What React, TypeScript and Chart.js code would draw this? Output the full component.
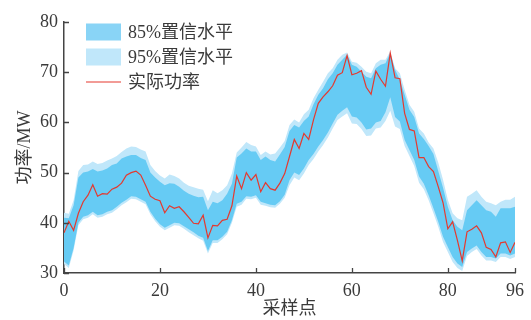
import React, { useEffect, useRef } from 'react';
import { Chart, registerables } from 'chart.js';

Chart.register(...registerables);

// ---- data (x = sample index 0..94) ----
const actual = [
  38.0, 40.3, 38.5, 41.9, 44.2, 45.5, 47.6, 45.3, 45.8, 45.7,
  46.7, 47.1, 47.9, 49.5, 50.0, 50.3, 49.5, 47.5, 45.3, 44.7,
  44.4, 42.0, 43.4, 42.9, 43.2, 42.2, 41.1, 39.9, 39.8, 41.5,
  37.0, 39.5, 39.4, 40.5, 40.7, 43.4, 49.3, 46.8, 50.0, 48.5,
  49.6, 46.2, 48.0, 46.8, 46.5, 47.9, 49.8, 53.2, 56.6, 54.8,
  57.8, 56.6, 60.5, 63.8, 65.1, 66.1, 67.3, 69.4, 69.9, 73.3,
  69.5, 69.8, 70.3, 67.0, 65.6, 70.2, 68.6, 67.2, 73.8, 68.9,
  68.7, 61.8, 58.6, 58.3, 53.0, 53.0, 51.2, 50.2, 47.2, 44.0,
  38.8, 40.2, 36.5, 32.4, 38.2, 38.7, 39.4, 38.0, 35.1, 34.7,
  33.2, 36.0, 36.2, 34.1, 36.1,
];

const upper95 = [
  42.0, 41.8, 44.5, 50.3, 51.5, 51.6, 52.2, 51.7, 51.9, 52.4,
  52.8, 53.3, 54.1, 54.8, 55.2, 55.1, 54.6, 54.2, 51.5, 50.3,
  49.4, 48.8, 49.6, 49.3, 48.8, 48.0, 47.4, 47.1, 46.8, 46.6,
  44.3, 46.5, 45.9, 46.5, 47.5, 49.8, 54.0, 55.0, 56.1, 55.5,
  55.2, 53.5, 54.2, 53.6, 53.8, 55.0, 56.3, 59.5, 60.6, 60.0,
  61.6, 62.5, 64.8, 66.5, 68.1, 69.8, 70.8, 72.5, 73.5, 73.9,
  72.1, 71.9, 71.1, 70.1, 69.8, 71.8, 72.5, 72.5, 74.1, 70.8,
  69.8, 66.5, 63.5, 62.1, 58.8, 57.8, 56.0, 54.8, 52.0, 48.6,
  44.6, 41.9, 40.9, 40.5, 45.2, 45.8, 46.5, 45.2, 44.2, 43.9,
  43.5, 44.2, 44.6, 44.6, 45.2,
];

const upper85 = [
  41.0, 40.9, 43.5, 49.0, 50.0, 50.2, 50.7, 50.2, 50.4, 50.8,
  51.5, 51.8, 52.8, 53.2, 53.5, 53.5, 52.9, 52.5, 50.0, 49.0,
  48.2, 47.5, 47.9, 47.8, 47.2, 46.4, 45.8, 45.4, 45.1, 45.2,
  42.5, 44.2, 43.9, 44.5, 45.8, 47.8, 53.0, 53.8, 54.8, 54.2,
  54.2, 52.5, 53.2, 52.5, 52.2, 53.6, 55.1, 58.3, 59.5, 59.0,
  60.3, 61.2, 63.6, 65.5, 66.8, 68.6, 69.8, 71.5, 72.5, 73.5,
  71.5, 71.1, 70.1, 69.1, 68.8, 70.8, 71.5, 71.8, 73.8, 70.5,
  68.5, 65.5, 62.5, 61.1, 57.8, 56.7, 55.3, 53.7, 50.3, 47.0,
  43.2, 40.5, 39.2, 38.5, 42.5, 43.5, 44.5, 43.5, 42.5, 42.2,
  41.2, 42.9, 42.9, 42.9, 43.2,
];

const lower85 = [
  32.3, 31.5, 35.0, 40.0, 41.2, 41.5, 42.2, 41.5, 41.7, 42.2,
  42.5, 43.2, 44.0, 44.6, 45.3, 45.2, 44.7, 44.2, 42.2, 40.8,
  39.7, 39.0, 39.5, 40.0, 39.9, 39.3, 38.7, 38.1, 37.4, 37.0,
  34.4, 36.5, 36.5, 37.2, 38.2, 40.5, 43.8, 44.2, 45.3, 45.2,
  45.5, 44.2, 43.9, 43.6, 43.5, 44.3, 45.6, 48.5, 50.0, 49.5,
  50.8, 52.5, 53.7, 55.2, 56.5, 58.0, 59.8, 61.5, 62.3, 63.0,
  61.2, 61.0, 60.0, 58.6, 58.8, 60.0, 60.3, 62.0, 65.0, 61.1,
  60.2, 56.5, 54.5, 52.5, 49.2, 47.8, 45.5, 42.9, 40.2, 37.2,
  35.2, 33.2, 31.9, 31.2, 34.2, 34.9, 35.5, 34.2, 33.2, 33.2,
  32.9, 33.9, 33.9, 33.5, 33.9,
];

const lower95 = [
  31.8, 31.0, 34.5, 39.5, 40.7, 41.0, 41.7, 41.0, 41.2, 41.7,
  42.0, 42.7, 43.5, 44.1, 44.8, 44.7, 44.2, 43.7, 41.7, 40.3,
  39.2, 38.5, 39.0, 39.5, 39.4, 38.8, 38.1, 37.5, 36.9, 36.4,
  33.9, 36.0, 36.0, 36.7, 37.7, 40.0, 43.2, 43.6, 44.8, 44.7,
  45.0, 43.6, 43.4, 43.1, 43.0, 43.8, 45.0, 47.5, 49.0, 48.5,
  49.8, 51.5, 52.7, 54.2, 55.5, 57.0, 58.8, 60.5, 61.2, 61.8,
  59.8, 59.7, 58.7, 57.3, 57.4, 58.8, 59.0, 60.3, 62.3, 59.2,
  58.7, 55.3, 53.3, 51.3, 48.0, 46.7, 44.5, 41.9, 39.2, 36.2,
  34.2, 32.2, 31.0, 30.4, 33.4, 34.2, 34.8, 33.5, 32.5, 32.5,
  32.2, 33.2, 33.2, 32.8, 33.2,
];

const xTickValues = [0, 20, 40, 60, 80, 94];
const xTickLabels = ['0', '20', '40', '60', '80', '96'];
const yMin = 30;
const yMax = 80;
const yStep = 10;
const xTitle = '采样点';
const yTitle = '功率/MW';
const legendLabels = ['85%置信水平', '95%置信水平', '实际功率'];

// ---- styles ----
const FONT = '"Liberation Serif", "Times New Roman", "Noto Sans CJK SC", serif';
const TEXT = '#3a3a3a';
const AXIS = '#444444';
const RED = '#e5392f';
const BAND85 = '#66cbf4';
const BAND95 = '#c0e7fa';
const LEG85 = '#89d4f6';
const LEG95 = '#c0e7fa';

const pts = (arr: number[]) => arr.map((y, i) => ({ x: i, y }));

const tickMarksPlugin = {
  id: 'inwardTicks',
  afterDraw(chart: any) {
    const { ctx, chartArea, scales } = chart;
    ctx.save();
    ctx.strokeStyle = AXIS;
    ctx.lineWidth = 1.3;
    ctx.beginPath();
    xTickValues.forEach((v) => {
      const px = Math.round(scales.x.getPixelForValue(v)) + 0.5;
      ctx.moveTo(px, chartArea.bottom);
      ctx.lineTo(px, chartArea.bottom - 5);
    });
    for (let v = yMin; v <= yMax; v += yStep) {
      const py = Math.round(scales.y.getPixelForValue(v)) + 0.5;
      ctx.moveTo(chartArea.left, py);
      ctx.lineTo(chartArea.left + 5, py);
    }
    ctx.stroke();
    ctx.restore();
  },
};

const legendPlugin = {
  id: 'insideLegend',
  afterDraw(chart: any) {
    const { ctx, chartArea } = chart;
    const x0 = chartArea.left + 22;
    const sw = 35;
    const rows = [chartArea.top + 10, chartArea.top + 35, chartArea.top + 60];
    ctx.save();
    ctx.fillStyle = LEG85;
    ctx.fillRect(x0, rows[0] - 8.5, sw, 17);
    ctx.fillStyle = LEG95;
    ctx.fillRect(x0, rows[1] - 8.5, sw, 17);
    ctx.strokeStyle = RED;
    ctx.lineWidth = 1.2;
    ctx.beginPath();
    ctx.moveTo(x0, rows[2]);
    ctx.lineTo(x0 + sw, rows[2]);
    ctx.stroke();
    ctx.fillStyle = TEXT;
    ctx.font = `18px ${FONT}`;
    ctx.textAlign = 'left';
    ctx.textBaseline = 'middle';
    legendLabels.forEach((t, i) => ctx.fillText(t, x0 + 42, rows[i] + 1));
    ctx.restore();
  },
};

export default function App() {
  const ref = useRef<HTMLCanvasElement | null>(null);

  useEffect(() => {
    if (!ref.current) return;
    const line = { pointRadius: 0, tension: 0, borderWidth: 0, borderColor: 'rgba(0,0,0,0)' };
    const chart = new Chart(ref.current, {
      type: 'line',
      data: {
        datasets: [
          { ...line, label: legendLabels[2], data: pts(actual), borderColor: RED, borderWidth: 1.2, fill: false },
          { ...line, label: legendLabels[0], data: pts(upper85), fill: '+1', backgroundColor: BAND85 },
          { ...line, label: 'lower85', data: pts(lower85), fill: false },
          { ...line, label: legendLabels[1], data: pts(upper95), fill: '+1', backgroundColor: BAND95 },
          { ...line, label: 'lower95', data: pts(lower95), fill: false },
        ],
      },
      options: {
        animation: false,
        responsive: false,
        layout: { padding: { top: 22, right: 10, left: 0, bottom: 0 } },
        plugins: { legend: { display: false }, tooltip: { enabled: false } },
        scales: {
          x: {
            type: 'linear',
            min: 0,
            max: xTickValues[xTickValues.length - 1],
            afterBuildTicks: (s: any) => {
              s.ticks = xTickValues.map((v) => ({ value: v }));
            },
            afterFit: (s: any) => {
              s.height = 47;
            },
            ticks: {
              autoSkip: false,
              maxRotation: 0,
              padding: 7,
              color: TEXT,
              font: { family: FONT, size: 18 },
              callback: (v: any) => {
                const i = xTickValues.indexOf(Number(v));
                return i >= 0 ? xTickLabels[i] : '';
              },
            },
            grid: { display: false, drawTicks: false },
            border: { display: true, color: AXIS, width: 1.5 },
            title: { display: true, text: xTitle, color: TEXT, font: { family: FONT, size: 18 }, padding: 0 },
          },
          y: {
            min: yMin,
            max: yMax,
            afterFit: (s: any) => {
              s.width = 64;
            },
            ticks: {
              stepSize: yStep,
              padding: 6,
              color: TEXT,
              font: { family: FONT, size: 18 },
            },
            grid: { display: false, drawTicks: false },
            border: { display: true, color: AXIS, width: 1.5 },
            title: { display: true, text: yTitle, color: TEXT, font: { family: FONT, size: 18 }, padding: { top: 14, bottom: 0 } },
          },
        },
      },
      plugins: [tickMarksPlugin, legendPlugin],
    } as any);
    return () => chart.destroy();
  }, []);

  return (
    <div style={{ position: 'fixed', left: 0, top: 0, width: 531, height: 320, background: '#fff' }}>
      <canvas ref={ref} width={531} height={320} style={{ display: 'block' }} />
    </div>
  );
}
